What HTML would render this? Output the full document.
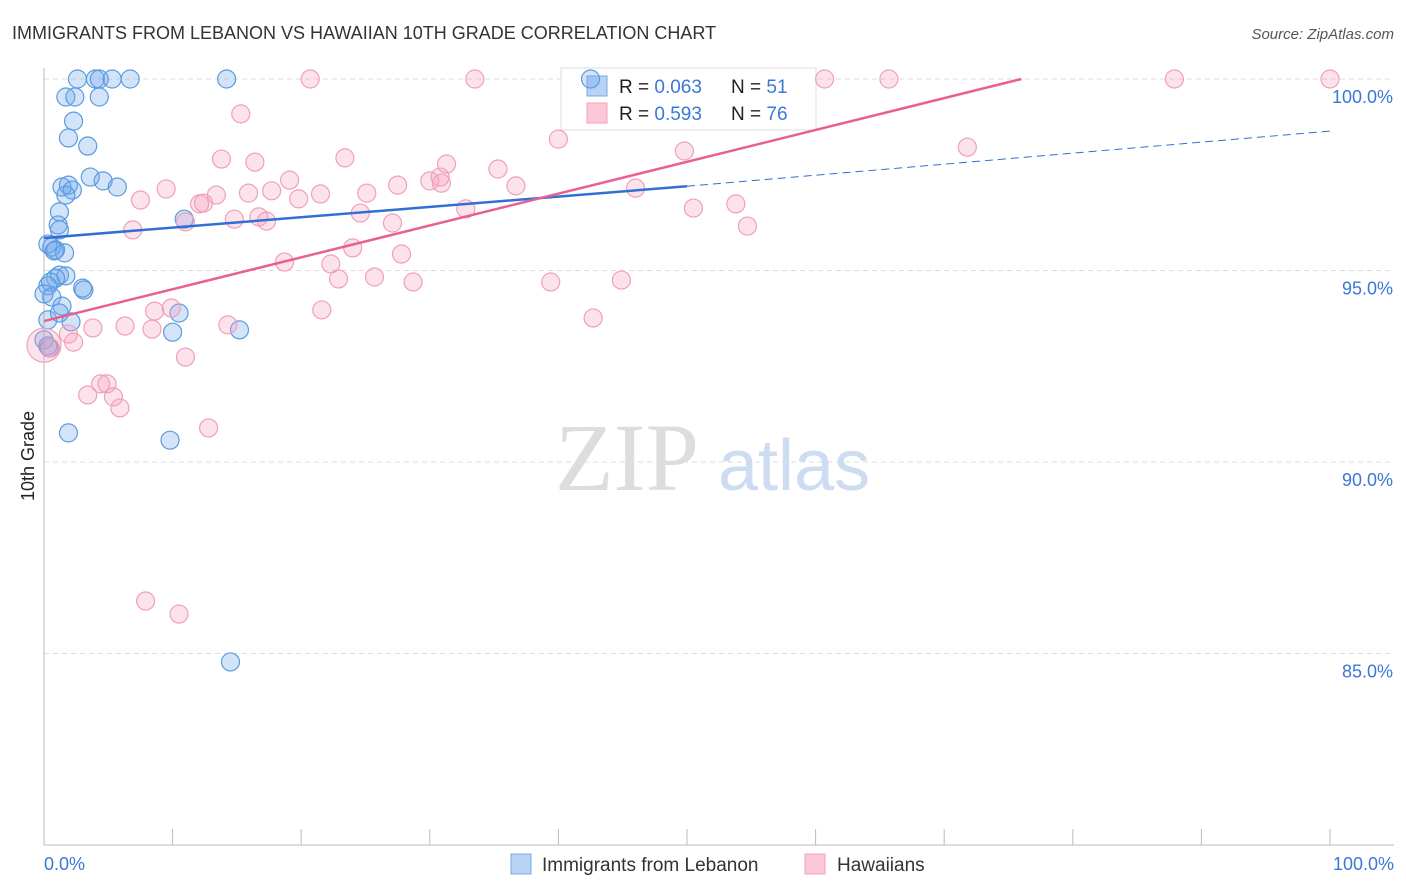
<!DOCTYPE html>
<html><head><meta charset="utf-8"><style>
body{margin:0;background:#fff;font-family:"Liberation Sans",sans-serif}
svg{display:block}
</style></head><body>
<svg id="c" width="1406" height="892" xmlns="http://www.w3.org/2000/svg">
<text x="12" y="39" font-size="18" fill="#333">IMMIGRANTS FROM LEBANON VS HAWAIIAN 10TH GRADE CORRELATION CHART</text>
<text x="1394" y="39" font-size="15" fill="#555" font-style="italic" text-anchor="end">Source: ZipAtlas.com</text>
<text x="34" y="456" font-size="18" fill="#222" text-anchor="middle" transform="rotate(-90 34 456)">10th Grade</text>
<g id="grid"></g>
<text x="555" y="490" font-size="96" fill="#ddd" font-family="Liberation Serif">ZIP</text>
<text x="718" y="490" font-size="72" fill="#cddcf0">atlas</text>
<g>
<rect x="561" y="68" width="255" height="62" fill="#fff" stroke="#ddd"/>
<rect x="587" y="76" width="20" height="20" fill="#b8d2f5" stroke="#7aa9e6"/>
<rect x="587" y="103" width="20" height="20" fill="#fac8d6" stroke="#f0a0b8"/>
<text x="619" y="93" font-size="19" fill="#222">R = <tspan fill="#3a78d8">0.063</tspan></text>
<text x="731" y="93" font-size="19" fill="#222">N = <tspan fill="#3a78d8"> 51</tspan></text>
<text x="619" y="120" font-size="19" fill="#222">R = <tspan fill="#3a78d8"> 0.593</tspan></text>
<text x="731" y="120" font-size="19" fill="#222">N = <tspan fill="#3a78d8">76</tspan></text>
</g>
<g id="pts"></g>
<g id="lines"></g>
<g>
<rect x="511" y="854" width="20" height="20" fill="#b8d2f5" stroke="#7aa9e6"/>
<text x="542" y="871" font-size="19" fill="#333">Immigrants from Lebanon</text>
<rect x="805" y="854" width="20" height="20" fill="#fac8d6" stroke="#f0a0b8"/>
<text x="837" y="871" font-size="19" fill="#333">Hawaiians</text>
</g>
<text x="44" y="870" font-size="18" fill="#3a78d8">0.0%</text>
<text x="1394" y="870" font-size="18" fill="#3a78d8" text-anchor="end">100.0%</text>
</svg>
<script>
const yTicks=[100,95,90,85];
const yTickLabels=["100.0%","95.0%","90.0%","85.0%"];
const xTicks=[0,10,20,30,40,50,60,70,80,90,100];
const blueX=[2.6,4.0,4.3,5.3,6.7,14.2,42.5,1.7,2.4,4.3,2.3,1.9,3.4,3.6,4.6,5.7,1.4,1.9,2.2,1.7,1.2,1.1,1.2,0.6,0.9,1.6,1.2,1.7,0.9,0.5,0.3,0,0.6,3.1,3.0,1.4,2.1,1.2,0.3,10.5,10.0,15.2,0,0.3,0.4,1.9,9.8,14.5,10.9,0.3,0.8];
const blueY=[100,100,100,100,100,100,100,99.53,99.53,99.53,98.9,98.46,98.25,97.44,97.34,97.18,97.18,97.23,97.1,96.97,96.53,96.19,96.06,95.61,95.54,95.46,94.88,94.86,94.8,94.7,94.6,94.39,94.31,94.49,94.54,94.07,93.66,93.89,93.71,93.89,93.39,93.45,93.19,93.03,92.98,90.76,90.57,84.78,96.34,95.69,95.51];
const pinkX=[20.7,33.5,60.7,65.7,87.9,100,15.3,13.8,16.4,23.4,40.0,49.8,71.8,9.5,7.5,13.4,15.9,17.7,19.1,19.8,21.5,25.1,27.5,30.0,30.8,31.3,35.3,36.7,46.0,30.9,12.1,12.4,11.0,14.8,16.7,17.3,24.6,27.1,32.8,50.5,53.8,54.7,6.9,18.7,22.3,24.0,22.9,25.7,27.8,28.7,39.4,44.9,21.6,8.6,9.9,14.3,6.3,3.8,8.4,42.7,1.9,2.3,0,0.5,11.0,4.4,4.9,3.4,5.4,5.9,12.8,7.9,10.5];
const pinkY=[100,100,100,100,100,100,99.09,97.91,97.83,97.94,98.43,98.12,98.22,97.13,96.84,96.97,97.02,97.08,97.36,96.87,97.0,97.02,97.23,97.34,97.44,97.78,97.65,97.21,97.15,97.28,96.74,96.76,96.27,96.34,96.4,96.29,96.5,96.24,96.61,96.63,96.74,96.16,96.06,95.22,95.17,95.59,94.78,94.83,95.43,94.7,94.7,94.75,93.97,93.94,94.02,93.58,93.55,93.5,93.47,93.76,93.34,93.13,93.05,92.98,92.74,92.04,92.04,91.75,91.7,91.41,90.89,86.37,86.03];
const blueFit=[95.85,97.2,98.64];
const pinkFit=[93.68,100,76];
const X=v=>44+v*12.86, Y=v=>79+(100-v)*38.3;
const NS="http://www.w3.org/2000/svg";
function mk(t,a,p){const e=document.createElementNS(NS,t);for(const k in a)e.setAttribute(k,a[k]);p.appendChild(e);return e;}
const grid=document.getElementById('grid');
yTicks.forEach((t,i)=>{
 const l=mk('line',{x1:44,x2:1394,y1:Y(t),y2:Y(t),stroke:'#ddd','stroke-dasharray':'5,4'},grid);
 
 
 const tx=mk('text',{x:1393,y:Y(t)+24,'font-size':18,fill:'#3a78d8','text-anchor':'end'},grid);
 tx.textContent=yTickLabels[i];
 
 
});
const ax=mk('line',{x1:44,x2:44,y1:68,y2:845,stroke:'#bbb'},grid);


const bx=mk('line',{x1:44,x2:1394,y1:845,y2:845,stroke:'#bbb'},grid);


xTicks.forEach(t=>{
 const l=mk('line',{x1:X(t),x2:X(t),y1:829,y2:845,stroke:'#bbb'},grid);
 
 
});
const pts=document.getElementById('pts');
blueX.forEach((x,i)=>{
 const c=mk('circle',{cx:X(x),cy:Y(blueY[i]),r:9,fill:'rgba(110,165,235,0.3)',stroke:'#5b9be0','stroke-width':1.2},pts);
 
 
});
pinkX.forEach((x,i)=>{
 const c=mk('circle',{cx:X(x),cy:Y(pinkY[i]),r:(x===0?17:9),fill:'rgba(245,160,190,0.3)',stroke:'#f0a0b8','stroke-width':1.2},pts);
 
 
});
const lines=document.getElementById('lines');
const b1=mk('line',{x1:X(0),y1:Y(blueFit[0]),x2:X(50),y2:Y(blueFit[1]),stroke:'#2f6fd6','stroke-width':2.5},lines);


const b2=mk('line',{x1:X(50),y1:Y(blueFit[1]),x2:X(100),y2:Y(blueFit[2]),stroke:'#2f6fd6','stroke-width':1,'stroke-dasharray':'8,5'},lines);


const p1=mk('line',{x1:X(0),y1:Y(pinkFit[0]),x2:X(pinkFit[2]),y2:Y(pinkFit[1]),stroke:'#e8608e','stroke-width':2.5},lines);


</script>
</body></html>
